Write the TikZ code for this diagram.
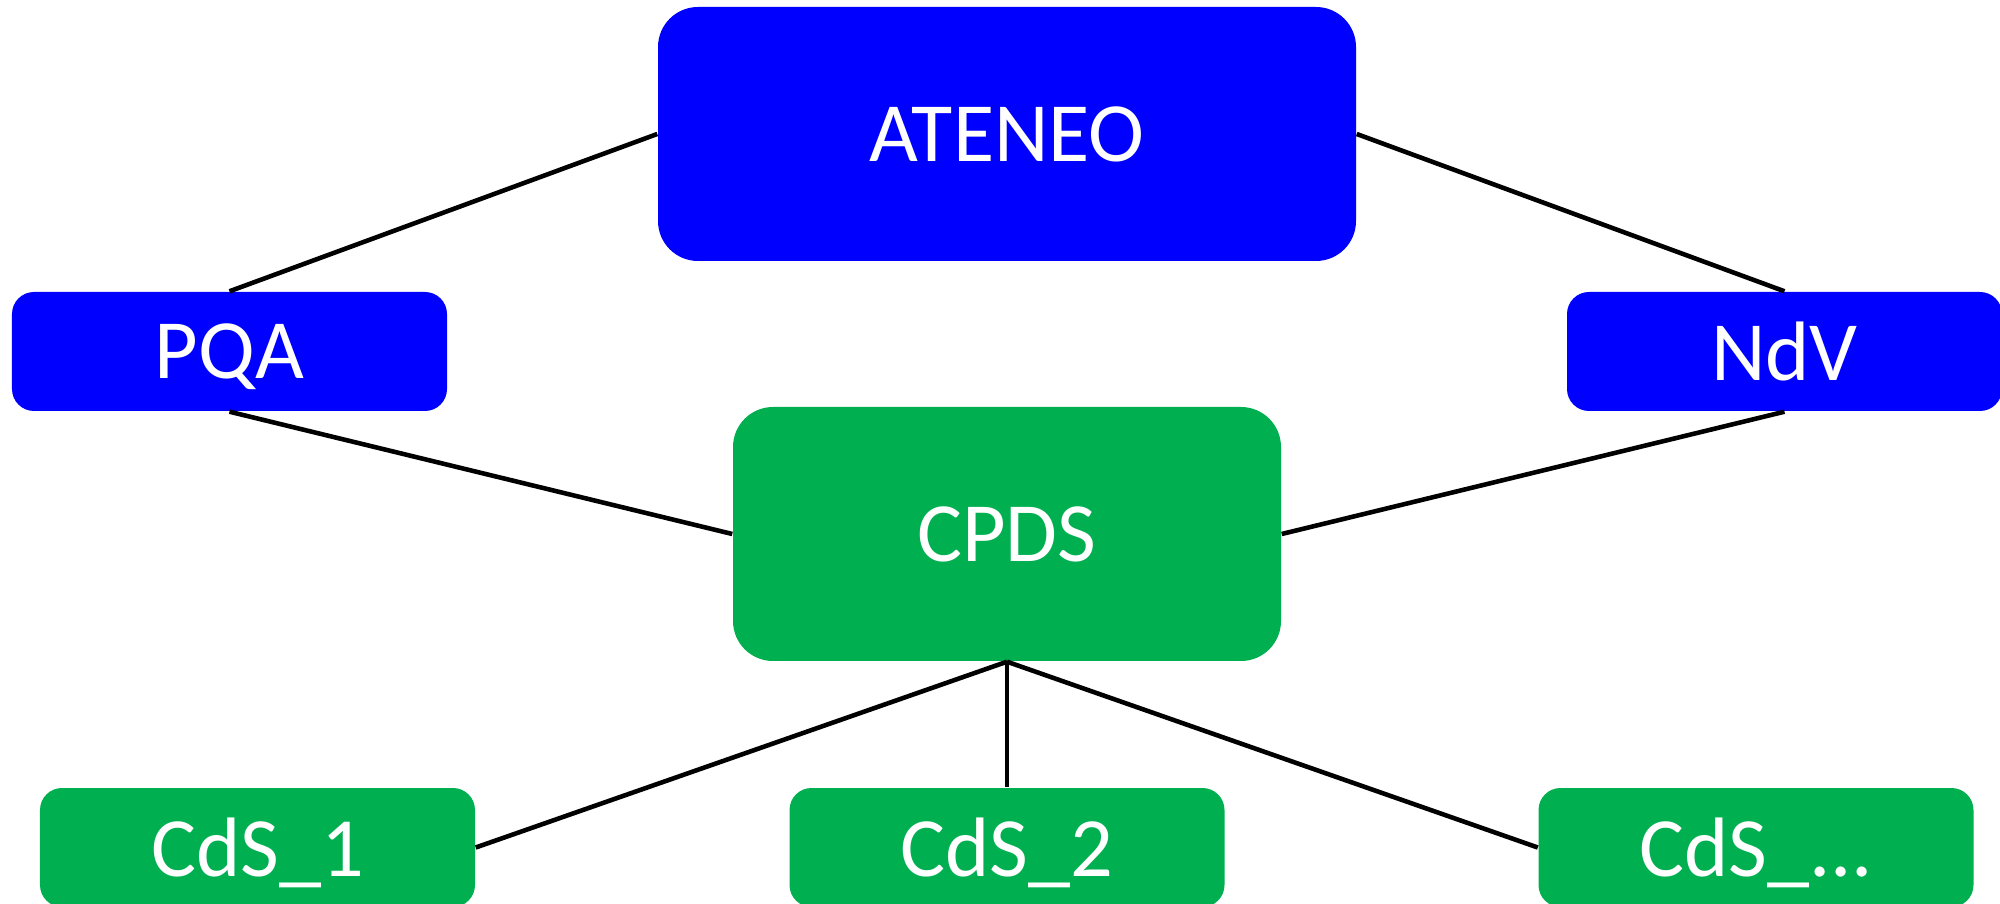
\documentclass[tikz,border=0pt]{standalone}
\usepackage{fontspec}
\setmainfont{Carlito}
\usepackage{tikz}
\definecolor{azulfuerte}{RGB}{0,0,255}
\definecolor{verdeoficina}{RGB}{0,176,80}

\begin{document}
\begin{tikzpicture}[
        every node/.style={rectangle, inner sep=0pt, text=white, text depth=0pt, font=\fontsize{24}{28}\selectfont},
        grande/.style={rounded corners=0.4cm, minimum height=2.54cm},
        chica/.style={rounded corners=0.22cm, minimum width=4.35cm, minimum height=1.19cm},
        azul/.style={fill=azulfuerte},
        verde/.style={fill=verdeoficina},
        enlace/.style={line width=1.3pt, black}
        ]
        \useasboundingbox (0,0) rectangle (20,-9.04);
        % Nodos principales
        \node[grande, azul, minimum width=6.98cm] (ateneo) at (10.07,-1.34) {ATENEO};
        \node[grande, verde, minimum width=5.48cm] (cpds) at (10.07,-5.34) {CPDS};
        
        % Nodos laterales
        \node[chica, azul] (pqa) at (2.295,-3.515) {PQA};
        \node[chica, azul] (ndv) at (17.845,-3.515) {NdV};
        
        % Nodos inferiores
        \node[chica, verde] (cds1) at (2.575,-8.475) {CdS\_1};
        \node[chica, verde] (cds2) at (10.07,-8.475) {CdS\_2};
        \node[chica, verde] (cds3) at (17.56,-8.475) {CdS\_...};
        
        % Conexiones
        \draw[enlace] (ateneo.west) -- (pqa.north);
        \draw[enlace] (ateneo.east) -- (ndv.north);
        \draw[enlace] (pqa.south) -- (cpds.west);
        \draw[enlace] (ndv.south) -- (cpds.east);
        
        \draw[enlace] (cpds.south) -- (cds1.east);
        \draw[enlace] (cpds.south) -- (cds2.north);
        \draw[enlace] (cpds.south) -- (cds3.west);
        \end{tikzpicture}
\end{document}
